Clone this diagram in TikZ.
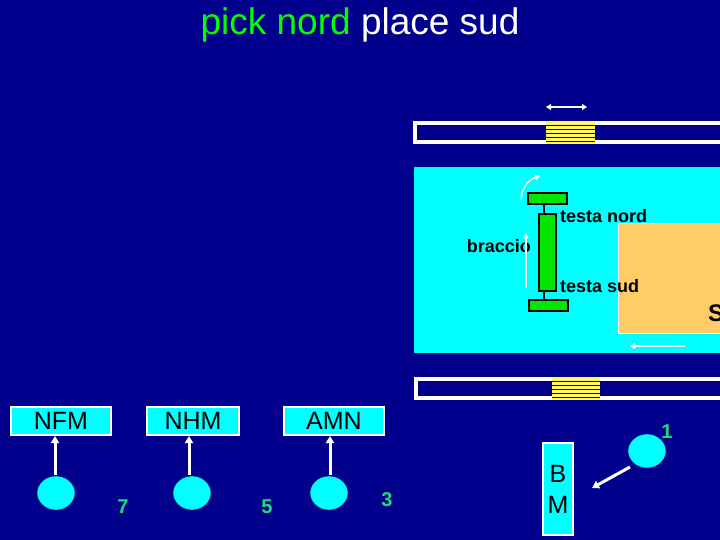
\documentclass[tikz,border=0pt]{standalone}
\usepackage{fontspec}
\setmainfont{Liberation Sans}
\usetikzlibrary{arrows.meta,shapes.geometric}
\definecolor{bg}{RGB}{0,0,140}
\definecolor{cy}{RGB}{0,255,255}
\definecolor{gr}{RGB}{0,230,0}
\definecolor{org}{RGB}{255,204,102}
\definecolor{num}{RGB}{30,220,120}
\begin{document}
\begin{tikzpicture}[x=1pt,y=-1pt,
  sm/.style={font=\bfseries\fontsize{18}{18}\selectfont, inner sep=0},
  boxn/.style={draw=white, line width=2pt, fill=cy, minimum width=#1, minimum height=28pt, inner sep=0, font=\fontsize{25}{25}\selectfont},
  circ/.style={ellipse, draw=bg, fill=cy, minimum width=38pt, minimum height=34pt, inner sep=0},
  warr/.style={white, line width=3pt, -{Triangle[length=7pt,width=8pt]}},
  nm/.style={text=num, font=\bfseries\fontsize{20}{20}\selectfont, inner sep=0},
  gbar/.style={draw=black, line width=1.2pt, fill=gr}]
\useasboundingbox (0,0) rectangle (720,540);
\fill[bg] (0,0) rectangle (720,540);
\node[font=\fontsize{37}{37}\selectfont] (title) at (360,25) {\textcolor{green}{pick nord} \textcolor{white}{place sud}};
\begin{scope}
\clip (0,0) rectangle (720,540);
\draw[white, line width=3.5pt, fill=bg] (415,123) rectangle (730,142);
\fill[yellow!60] (546,121) rectangle (595,144);
\foreach \y in {125,129,133,137,141} \draw[bg, line width=0.6pt] (546,\y) -- (595,\y);
\draw[white, line width=3.5pt, fill=bg] (416,379) rectangle (730,398);
\fill[yellow!60] (552,377) rectangle (600,400);
\foreach \y in {381,385,389,393,397} \draw[bg, line width=0.6pt] (552,\y) -- (600,\y);
\fill[cy] (414,167) rectangle (730,353);
\draw[white, line width=1pt, fill=org] (618,224) rectangle (730,333);
\node[font=\bfseries\fontsize{24}{24}\selectfont, inner sep=0, anchor=west] (S) at (708,313) {S};
\end{scope}
\draw[white, line width=1.5pt, {Triangle[length=5pt,width=6pt]}-{Triangle[length=5pt,width=6pt]}] (546,107) -- (587,107);
\draw[gbar] (528,193) rectangle (567,204);
\draw[gbar] (529,300) rectangle (568,311);
\draw[black, line width=1.5pt] (544,204) -- (544,300);
\draw[gbar] (539,214) rectangle (556,291);
\node[sm, anchor=west] (tn) at (560,216) {testa nord};
\node[sm, anchor=east] (br) at (531,246) {braccio};
\node[sm, anchor=west] (ts) at (560,286) {testa sud};
\draw[white, line width=1.5pt, -{Triangle[length=5pt,width=5pt]}] (526,288) -- (526,233);
\draw[white, line width=1.5pt, -{Triangle[length=5pt,width=6pt]}] (521,200) to[bend left=35] (540,176);
\draw[white, line width=1.5pt, -{Triangle[length=5pt,width=6pt]}] (685,346) -- (630,346);
\node[boxn=100pt] (nfm) at (61,421) {NFM};
\node[boxn=92pt] (nhm) at (193,421) {NHM};
\node[boxn=100pt] (amn) at (334,421) {AMN};
\node[circ] (c7) at (56,493) {};
\node[circ] (c5) at (192,493) {};
\node[circ] (c3) at (329,493) {};
\node[circ] (c1) at (647,451) {};
\draw[warr] (55,475) -- (nfm.south -| 55,0);
\draw[warr] (189,475) -- (nhm.south -| 189,0);
\draw[warr] (330,475) -- (amn.south -| 330,0);
\node[nm] (n7) at (123,507) {7};
\node[nm] (n5) at (267,507) {5};
\node[nm] (n3) at (387,500) {3};
\node[nm] (n1) at (667,432) {1};
\node[draw=white, line width=1.5pt, fill=cy, minimum width=30pt, minimum height=92pt, inner sep=0, align=center, font=\fontsize{25}{31}\selectfont] (bm) at (558,489) {B\\M};
\draw[warr] (630,467) -- (592,488);
\end{tikzpicture}
\end{document}
